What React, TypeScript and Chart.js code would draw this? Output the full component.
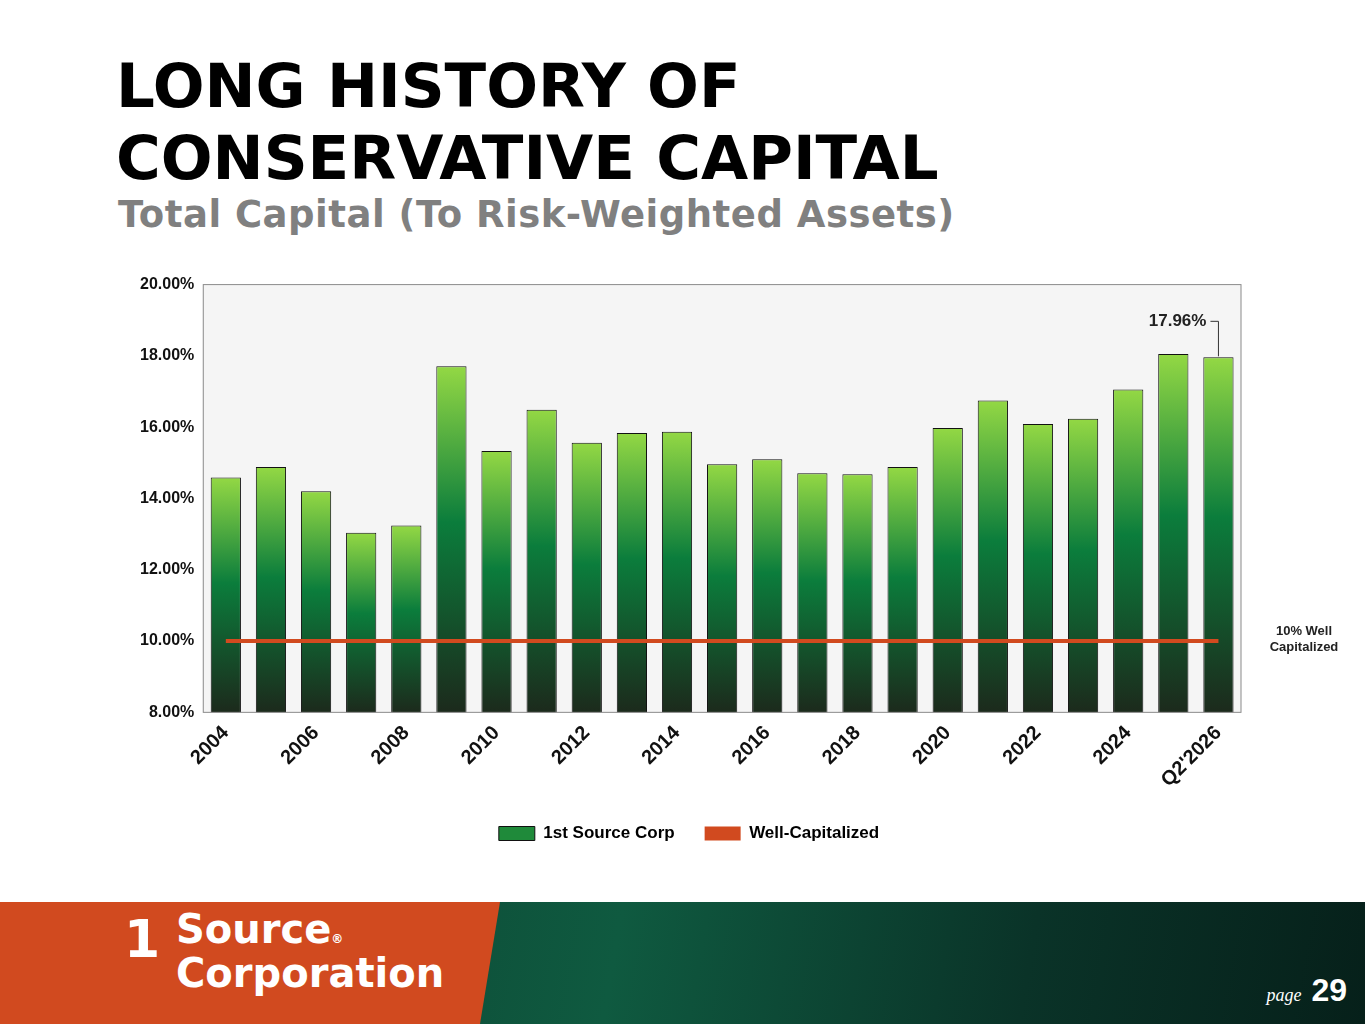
import { useEffect, useRef } from "react";
import { Chart, registerables } from "chart.js";

Chart.register(...registerables);

const years = [
  "2004", "2005", "2006", "2007", "2008", "2009", "2010", "2011", "2012", "2013", "2014",
  "2015", "2016", "2017", "2018", "2019", "2020", "2021", "2022", "2023", "2024", "2025", "Q2'2026",
];
const totalCapital = [
  14.59, 14.88, 14.2, 13.04, 13.24, 17.71, 15.33, 16.49, 15.56, 15.84, 15.87,
  14.96, 15.1, 14.71, 14.68, 14.88, 15.98, 16.75, 16.09, 16.24, 17.06, 18.05, 17.96,
];
const wellCapitalized = years.map(() => 10);
const yTicks = [8, 10, 12, 14, 16, 18, 20];

const FONT = "'Liberation Sans', Arial, sans-serif";
const HEAD = "'DejaVu Sans', sans-serif";
const ORANGE = "#d14a1f";

const plotBg = {
  id: "plotBg",
  beforeDraw(chart: Chart) {
    const { ctx, chartArea: a } = chart;
    ctx.save();
    ctx.fillStyle = "#f5f5f5";
    ctx.fillRect(a.left, a.top, a.width, a.height);
    ctx.restore();
  },
  afterDraw(chart: Chart) {
    const { ctx, chartArea: a } = chart;
    const x = chart.scales.x;
    const y = chart.scales.y;
    ctx.save();
    ctx.strokeStyle = "#8a8a8a";
    ctx.lineWidth = 1;
    ctx.strokeRect(a.left, a.top, a.width, a.height);
    // last-value callout
    const last = years.length - 1;
    const px = x.getPixelForValue(last);
    const py = y.getPixelForValue(totalCapital[last]);
    ctx.strokeStyle = "#333";
    ctx.beginPath();
    ctx.moveTo(px, py - 1);
    ctx.lineTo(px, py - 36);
    ctx.lineTo(px - 8, py - 36);
    ctx.stroke();
    ctx.fillStyle = "#222";
    ctx.font = `bold 17px ${FONT}`;
    ctx.textAlign = "right";
    ctx.textBaseline = "middle";
    ctx.fillText(totalCapital[last].toFixed(2) + "%", px - 12, py - 36);
    // well-capitalized note
    const ly = y.getPixelForValue(10);
    ctx.textAlign = "center";
    ctx.font = `bold 13px ${FONT}`;
    ctx.fillText("10% Well", a.right + 63, ly - 10);
    ctx.fillText("Capitalized", a.right + 63, ly + 6);
    ctx.restore();
  },
};

function barFill(c: any) {
  const chart = c.chart as Chart;
  const y = chart.scales?.y;
  if (c.dataIndex === undefined || !y) return "#1f8a3a";
  const top = y.getPixelForValue(totalCapital[c.dataIndex]);
  const bottom = y.getPixelForValue(8);
  const g = chart.ctx.createLinearGradient(0, top, 0, bottom);
  g.addColorStop(0, "#93d844");
  g.addColorStop(0.45, "#0b7d3c");
  g.addColorStop(1, "#1c2a1c");
  return g;
}

function CapitalChart() {
  const canvasRef = useRef<HTMLCanvasElement>(null);
  const chartRef = useRef<Chart | null>(null);

  useEffect(() => {
    if (!canvasRef.current) return;
    chartRef.current?.destroy();
    chartRef.current = new Chart(canvasRef.current, {
      type: "bar",
      data: {
        labels: years,
        datasets: [
          {
            type: "line",
            label: "Well-Capitalized",
            data: wellCapitalized,
            borderColor: ORANGE,
            backgroundColor: ORANGE,
            borderWidth: 4,
            pointRadius: 0,
            order: 0,
          } as any,
          {
            label: "1st Source Corp",
            data: totalCapital,
            backgroundColor: barFill,
            borderColor: "#111",
            borderWidth: 1,
            categoryPercentage: 1,
            barPercentage: 0.67,
            order: 1,
          },
        ],
      },
      plugins: [plotBg],
      options: {
        animation: false,
        responsive: true,
        maintainAspectRatio: false,
        layout: { padding: { right: 124, top: 4 } },
        plugins: {
          tooltip: { enabled: false },
          legend: {
            position: "bottom",
            labels: {
              font: { family: FONT, size: 17, weight: "bold" },
              color: "#111",
              boxWidth: 36,
              boxHeight: 14,
              padding: 30,
              generateLabels: () => [
                { text: "1st Source Corp", fillStyle: "#1f8a3a", strokeStyle: "#111", lineWidth: 1, datasetIndex: 1 } as any,
                { text: "Well-Capitalized", fillStyle: ORANGE, strokeStyle: ORANGE, lineWidth: 0, datasetIndex: 0 } as any,
              ],
            },
          },
        },
        scales: {
          x: {
            grid: { display: false, drawTicks: true, tickLength: 6 },
            border: { display: false },
            ticks: {
              autoSkip: false,
              maxRotation: 45,
              minRotation: 45,
              color: "#111",
              font: { family: FONT, size: 20, weight: "bold" },
              callback: (_v, i) => (i % 2 === 0 ? years[i] : ""),
            },
          },
          y: {
            min: 8,
            max: 20,
            afterBuildTicks: (s) => { s.ticks = yTicks.map((v) => ({ value: v })); },
            grid: { display: false, drawTicks: true, tickLength: 6 },
            border: { display: false },
            ticks: {
              color: "#111",
              font: { family: FONT, size: 16, weight: "bold" },
              callback: (v) => Number(v).toFixed(2) + "%",
            },
          },
        },
      },
    });
    return () => { chartRef.current?.destroy(); };
  }, []);

  return (
    <div style={{ position: "absolute", left: 137, top: 272, width: 1228, height: 580 }}>
      <canvas ref={canvasRef} />
    </div>
  );
}

export default function App() {
  return (
    <div style={{ position: "absolute", left: 0, top: 0, width: 1365, height: 1024, background: "#fff", fontFamily: FONT, overflow: "hidden" }}>
      <div style={{ position: "absolute", left: 116, top: 50, fontSize: 61, fontWeight: "bold", fontFamily: HEAD, lineHeight: "72px", color: "#000" }}>
        LONG HISTORY OF<br />CONSERVATIVE CAPITAL
      </div>
      <div style={{ position: "absolute", left: 118, top: 193, fontSize: 37, fontWeight: "bold", fontFamily: HEAD, letterSpacing: 0.5, color: "#808080" }}>
        Total Capital (To Risk-Weighted Assets)
      </div>
      <CapitalChart />
      <div style={{ position: "absolute", left: 0, top: 902, width: 1365, height: 122, background: "linear-gradient(100deg, #0b3a2c 0%, #0f5a40 45%, #0a3328 75%, #06201a 100%)" }} />
      <div style={{ position: "absolute", left: 0, top: 902, width: 500, height: 122, background: ORANGE, clipPath: "polygon(0 0, 100% 0, 96% 100%, 0 100%)" }} />
      <div style={{ position: "absolute", left: 124, top: 912, color: "#fff", fontWeight: "bold", fontSize: 40, lineHeight: "34px", fontFamily: HEAD }}>
        <span style={{ position: "absolute", left: 0, top: 10, fontSize: 52 }}>1</span>
        <div style={{ marginLeft: 52 }}>Source<span style={{ fontSize: 12 }}>®</span></div>
        <div style={{ marginLeft: 52 }}>Corporation</div>
      </div>
      <div style={{ position: "absolute", right: 18, top: 972, color: "#fff", fontSize: 32, fontWeight: "bold" }}>
        <span style={{ fontFamily: "'Liberation Serif', serif", fontStyle: "italic", fontWeight: "normal", fontSize: 18, marginRight: 10 }}>page</span>29
      </div>
    </div>
  );
}
